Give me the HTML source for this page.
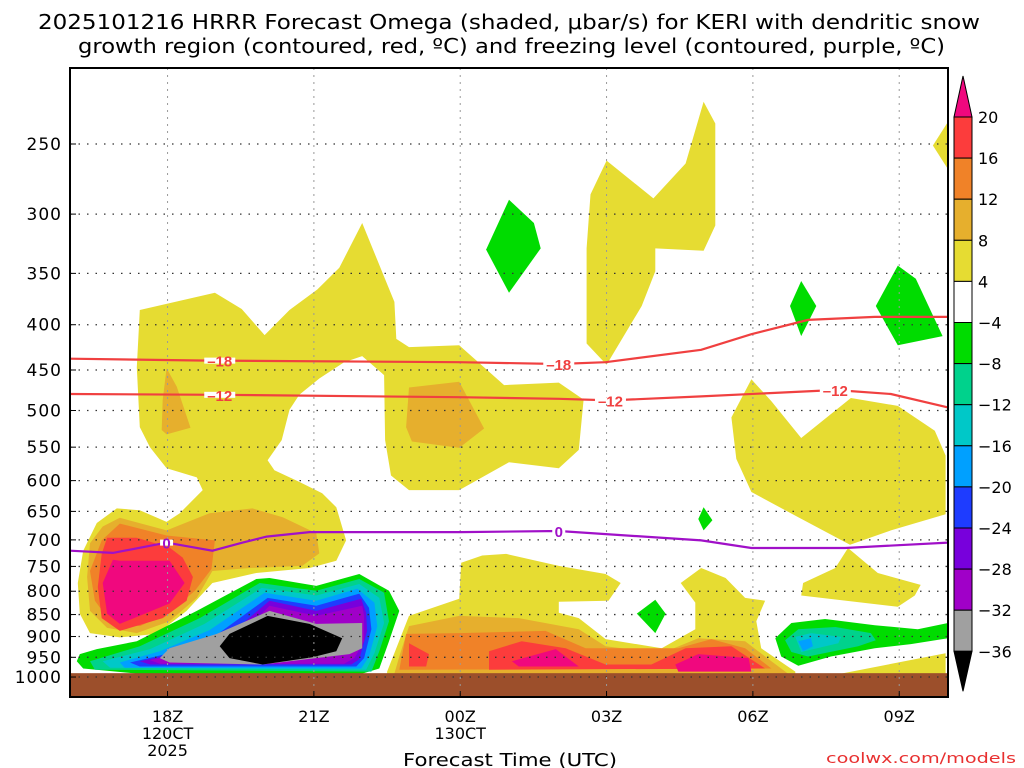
<!DOCTYPE html>
<html><head><meta charset="utf-8"><style>
body{margin:0;background:#fff;}
svg{display:block;font-family:"DejaVu Sans","Liberation Sans",sans-serif;}
</style></head><body>
<svg id="chart" width="1024" height="768" viewBox="0 0 1024 768" xmlns="http://www.w3.org/2000/svg">
<text x="38" y="29" font-size="20" textLength="942" lengthAdjust="spacingAndGlyphs">2025101216 HRRR Forecast Omega (shaded, μbar/s) for KERI with dendritic snow</text>
<text x="78" y="53" font-size="20" textLength="867" lengthAdjust="spacingAndGlyphs">growth region (contoured, red, ºC) and freezing level (contoured, purple, ºC)</text>
<g id="fills"></g>
<g id="grid"></g>
<g id="lines"></g>
<g id="axes"></g>
<g id="cbar"></g>
<text x="403" y="766" font-size="18" textLength="214" lengthAdjust="spacingAndGlyphs">Forecast Time (UTC)</text>
<text x="826" y="763" font-size="14" fill="#e83030" textLength="190" lengthAdjust="spacingAndGlyphs">coolwx.com/models</text>
</svg>
<script>
// ---- data ----
const xTickHours = [18, 21, 24, 27, 30, 33];
const xTickLabels = [["18Z","120CT","2025"],["21Z"],["00Z","130CT"],["03Z"],["06Z"],["09Z"]];
const yTickLevels = [250,300,350,400,450,500,550,600,650,700,750,800,850,900,950,1000];
const cbarLevels = [20,16,12,8,4,-4,-8,-12,-16,-20,-24,-28,-32,-36];
const cbarColors = ["#fc3c3c","#f08228","#e6af2d","#e6dc32","#ffffff","#00dc00","#00d28c","#00c8c8","#00a0ff","#1e3cff","#7800dc","#a000c8","#a0a0a0"];
const groundPressure = 990;

const yellowMain = [[17.43,385],[18.97,368],[19.52,384],[19.99,411],[20.5,385],[21.07,365],[21.52,345],[21.99,307],[22.65,377],[22.69,415],[22.95,424],[23.98,422],[24.9,468],[26.02,465],[26.53,486],[26.43,554],[26.02,581],[25.0,572],[23.98,615],[22.95,615],[22.58,592],[22.46,540],[22.44,456],[21.99,434],[21.62,441],[21.11,460],[20.7,480],[20.5,499],[20.34,540],[20.05,569],[20.19,584],[20.7,602],[21.17,620],[21.46,643],[21.66,701],[21.46,739],[20.91,753],[19.82,763],[18.92,783],[18.39,842],[17.78,894],[17.02,902],[16.41,892],[16.2,848],[16.16,783],[16.27,720],[16.55,670],[16.96,645],[17.43,648],[17.98,668],[18.25,653],[18.72,615],[18.6,595],[17.98,581],[17.64,550],[17.43,522],[17.37,447]];
const yellowLower = [[22.5,986],[22.95,853],[23.98,816],[24.02,743],[24.45,729],[24.94,726],[26.02,749],[26.98,765],[27.29,783],[27.04,820],[26.02,822],[26.02,846],[26.43,858],[26.98,906],[28.13,928],[28.82,883],[28.82,824],[28.52,783],[28.94,753],[29.44,773],[29.84,814],[30.25,820],[30.07,865],[30.17,928],[30.87,986],[30.87,995],[22.5,995]];
const yellowTop = [[26.67,285],[27.0,261],[27.96,288],[28.62,263],[28.99,224],[29.23,237],[29.23,309],[28.99,330],[28.0,328],[28.0,348],[27.72,381],[27.0,444],[26.59,420],[26.59,328]];
const yellowCorner = [[34,236],[33.69,251],[34,267]];
const yellowRight = [[29.97,461],[30.38,488],[30.99,537],[32.01,484],[32.97,494],[33.73,527],[33.95,562],[33.95,655],[32.83,683],[31.99,709],[30.93,660],[29.97,618],[29.66,567],[29.56,509]];
const yellowLowRight = [[31.95,715],[32.56,763],[33.44,787],[33.32,809],[32.97,833],[30.99,809],[31.03,783],[31.69,753]];
const yellowStrip = [[31.81,991],[33.95,940],[33.95,991]];
const dkyTri = [[17.98,448],[18.19,470],[18.47,523],[17.98,532],[17.88,526],[17.9,486]];
const dky00 = [[22.95,471],[23.98,464],[24.49,524],[23.98,551],[23.01,542],[22.89,522]];
const dkyLeft = [[16.67,676],[17.02,661],[17.98,683],[18.86,653],[19.74,645],[20.36,660],[21.05,688],[21.11,725],[20.76,749],[19.68,753],[18.92,759],[18.6,814],[18.04,865],[17.37,892],[16.76,880],[16.41,842],[16.35,771],[16.41,706]];
const dkyLower = [[22.75,948],[22.95,876],[23.98,853],[25.2,858],[26.43,883],[26.98,923],[28.13,940],[28.88,904],[29.84,911],[30.38,960],[30.72,991],[22.65,991]];
const orangeLeft = [[16.65,701],[17.02,671],[17.98,692],[18.97,701],[18.9,755],[18.56,799],[18.04,846],[17.43,876],[16.82,865],[16.51,820],[16.41,759]];
const orangeLower = [[22.89,894],[23.98,892],[25.75,887],[26.57,928],[28.47,928],[29.15,906],[29.84,928],[30.38,978],[22.75,981]];
const redLeft = [[16.76,696],[17.37,696],[18.04,714],[18.31,733],[18.52,771],[18.39,820],[17.9,858],[17.02,887],[16.65,858],[16.57,791],[16.65,726]];
const redLow1 = [[22.95,916],[23.36,942],[23.3,973],[22.95,973]];
const redLow2 = [[24.59,935],[25.26,911],[26.16,928],[26.98,968],[27.92,968],[28.62,928],[29.56,923],[30.25,978],[24.59,981]];
const magLeft = [[16.88,737],[17.02,739],[18.04,739],[18.35,783],[18.04,826],[17.02,871],[16.76,848],[16.67,783]];
const magLow1 = [[25.06,960],[25.96,930],[26.43,973],[25.2,973]];
const magLow2 = [[28.41,968],[28.88,942],[29.91,952],[29.97,986],[28.47,986]];
const green01 = [[25.0,289],[25.51,307],[25.65,328],[25.0,368],[24.53,329]];
const green07 = [[30.99,357],[31.3,381],[30.99,412],[30.76,381]];
const green09 = [[32.97,343],[33.34,355],[33.89,412],[32.97,422],[32.52,381]];
const green05 = [[28.99,643],[29.17,665],[28.99,683],[28.88,663]];
const green04 = [[28.0,818],[28.21,848],[28.0,892],[27.62,848]];
const negGreen = [[16.2,942],[16.55,930],[17.37,911],[18.6,842],[19.82,775],[20.09,773],[21.05,789],[21.93,765],[22.54,799],[22.75,842],[22.54,911],[22.34,978],[21.99,991],[17.37,991],[16.27,978],[16.14,960]];
const negTeal = [[16.41,960],[17.43,923],[18.66,858],[19.89,783],[21.05,799],[21.93,775],[22.44,803],[22.54,865],[22.34,935],[22.18,986],[16.51,981]];
const negCyan = [[16.67,960],[17.64,930],[18.76,871],[19.93,793],[21.05,809],[21.93,785],[22.34,814],[22.44,869],[22.24,940],[22.07,981],[16.82,976]];
const negLightBlue = [[17.02,963],[17.84,935],[18.86,885],[19.99,803],[21.05,820],[21.89,795],[22.24,824],[22.3,876],[22.13,948],[21.97,978],[17.12,976]];
const negBlue = [[17.23,963],[18.04,940],[18.97,899],[20.05,814],[21.05,831],[21.93,805],[22.13,835],[22.18,883],[22.03,952],[21.87,973],[17.43,973]];
const negPurple = [[17.43,960],[18.25,940],[19.11,911],[20.09,820],[21.05,842],[21.97,816],[22.07,846],[22.09,887],[21.93,955],[21.77,968],[17.64,968]];
const negMagPurple = [[17.64,957],[18.45,937],[19.27,923],[20.09,831],[21.05,853],[21.99,831],[22.03,853],[22.03,911],[21.83,952],[21.62,966],[17.84,966]];
const negGray = [[17.84,952],[18.04,928],[19.01,894],[20.09,842],[21.05,871],[21.99,869],[21.99,928],[21.73,942],[19.95,968],[18.04,963]];
const negBlack = [[19.07,923],[19.27,894],[20.05,853],[20.91,871],[21.58,904],[21.46,935],[20.97,950],[19.95,968],[19.27,952]];
const rGreen = [[30.46,904],[30.79,869],[31.48,860],[32.5,874],[33.38,883],[34,869],[34,904],[33.24,918],[32.5,928],[31.6,948],[30.93,971],[30.58,948]];
const rTeal = [[30.66,909],[30.93,883],[31.69,878],[32.42,892],[32.52,909],[32.16,923],[31.13,948],[30.79,937]];
const rCyan = [[30.87,901],[31.19,892],[31.81,901],[31.75,916],[30.99,937]];
const rLightBlue = [[30.93,911],[31.19,904],[31.23,923],[31.03,935]];

const line18 = [[16,437],[18.66,439],[23.98,441],[26.02,443],[26.98,441],[28.94,427],[29.97,410],[31.13,395],[32.5,392],[34,392]];
const line12 = [[16,479],[19.07,480],[23.98,483],[26.02,485],[27.08,487],[28.94,482],[31.69,474],[32.83,479],[34,496]];
const line0 = [[16,720],[16.88,724],[17.98,705],[18.92,720],[19.54,705],[20.03,694],[20.91,686],[22.13,686],[24.02,686],[26.02,684],[28.94,701],[29.97,715],[31.89,715],[34,705]];
const labels18 = [[19.07,"-18"],[26.02,"-18"]];
const labels12 = [[19.07,"-12"],[27.08,"-12"],[31.69,"-12"]];
const labels0 = [[17.98,"0"],[26.02,"0"]];

const X0=70,X1=948,Y0=68,Y1=697,H0=16,H1=34;
function xs(h){return X0+(h-H0)*(X1-X0)/(H1-H0);}
function ys(p){return 144+384.5*Math.log(p/250);}
const NS="http://www.w3.org/2000/svg";
function mk(tag,attrs,parent){const e=document.createElementNS(NS,tag);for(const k in attrs)e.setAttribute(k,attrs[k]);parent.appendChild(e);return e;}
const fills=document.getElementById('fills');
function poly(data,color,name){
  const pts=data.map(d=>xs(d[0]).toFixed(1)+','+ys(d[1]).toFixed(1)).join(' ');
  const e=mk('polygon',{points:pts,fill:color},fills);
  
  
}
const Y="#e6dc32",DY="#e6af2d",OR="#f08228",RD="#fc3c3c",MG="#f0087e",GR="#00dc00";
poly(yellowMain,Y,'yellow-region-main');
poly(yellowLower,Y,'yellow-region-lower');
poly(yellowTop,Y,'yellow-region-top');
poly(yellowCorner,Y,'yellow-region-corner');
poly(yellowRight,Y,'yellow-region-right');
poly(yellowLowRight,Y,'yellow-region-low-right');
poly(yellowStrip,Y,'yellow-region-strip');
poly(dkyTri,DY,'dark-yellow-triangle');
poly(dky00,DY,'dark-yellow-00z');
poly(dkyLeft,DY,'dark-yellow-left');
poly(dkyLower,DY,'dark-yellow-lower');
poly(orangeLeft,OR,'orange-left');
poly(orangeLower,OR,'orange-lower');
poly(redLeft,RD,'red-left');
poly(redLow1,RD,'red-lower-1');
poly(redLow2,RD,'red-lower-2');
poly(magLeft,MG,'magenta-left');
poly(magLow1,MG,'magenta-lower-1');
poly(magLow2,MG,'magenta-lower-2');
poly(green01,GR,'green-01z');
poly(green07,GR,'green-07z');
poly(green09,GR,'green-09z');
poly(green05,GR,'green-05z');
poly(green04,GR,'green-04z');
poly(negGreen,GR,'neg-green');
poly(negTeal,"#00d28c",'neg-teal');
poly(negCyan,"#00c8c8",'neg-cyan');
poly(negLightBlue,"#00a0ff",'neg-lightblue');
poly(negBlue,"#1e3cff",'neg-blue');
poly(negPurple,"#7800dc",'neg-purple');
poly(negMagPurple,"#a000c8",'neg-magpurple');
poly(negGray,"#a0a0a0",'neg-gray');
poly(negBlack,"#000000",'neg-black');
poly(rGreen,GR,'right-green');
poly(rTeal,"#00d28c",'right-teal');
poly(rCyan,"#00c8c8",'right-cyan');
poly(rLightBlue,"#00a0ff",'right-lightblue');
const gnd=mk('rect',{x:X0,y:ys(groundPressure),width:X1-X0,height:Y1-ys(groundPressure),fill:"#9c4f2b"},fills);



const grid=document.getElementById('grid');
yTickLevels.forEach(p=>{
  const l=mk('line',{x1:X0,x2:X1,y1:ys(p),y2:ys(p),stroke:"#333",'stroke-width':1.3,'stroke-dasharray':"1.5 7"},grid);
  
  
});
xTickHours.forEach(h=>{
  const l=mk('line',{x1:xs(h),x2:xs(h),y1:Y0,y2:Y1,stroke:"#999",'stroke-width':1,'stroke-dasharray':"2 5"},grid);
  
  
});

const lines=document.getElementById('lines');
function pl(data,color,name){
  const pts=data.map(d=>xs(d[0]).toFixed(1)+','+ys(d[1]).toFixed(1)).join(' ');
  const e=mk('polyline',{points:pts,fill:"none",stroke:color,'stroke-width':2.2},lines);
  
  
}
function interp(data,h){for(let i=0;i<data.length-1;i++){if(h>=data[i][0]&&h<=data[i+1][0]){const t=(h-data[i][0])/(data[i+1][0]-data[i][0]);return data[i][1]+t*(data[i+1][1]-data[i][1]);}}return data[0][1];}
function lab(data,labs,color,name){
  labs.forEach(l=>{
    const x=xs(l[0]),y=ys(interp(data,l[0]));
    const w=l[1].length*9+4;
    const r=mk('rect',{x:x-w/2,y:y-3,width:w,height:6,fill:"#fff"},lines);
    
    
    const t=mk('text',{x:x,y:y+6,'font-size':15,'font-weight':'bold',fill:color,'text-anchor':'middle','font-family':'Liberation Sans, sans-serif'},lines);
    t.textContent=l[1].replace('-','–');
    
    
  });
}
pl(line18,"#f04040",'contour-minus18');
pl(line12,"#f04040",'contour-minus12');
pl(line0,"#a010c8",'freezing-level');
lab(line18,labels18,"#f04040",'contour-minus18');
lab(line12,labels12,"#f04040",'contour-minus12');
lab(line0,labels0,"#a010c8",'freezing-level');

const axes=document.getElementById('axes');
const fr=mk('rect',{x:X0,y:Y0,width:X1-X0,height:Y1-Y0,fill:"none",stroke:"#000",'stroke-width':2},axes);


yTickLevels.forEach(p=>{
  const t=mk('text',{x:62,y:ys(p)+6,'font-size':17,'text-anchor':'end','letter-spacing':'1'},axes);
  t.textContent=p;
  
  
  const tk=mk('line',{x1:X0,x2:X0+6,y1:ys(p),y2:ys(p),stroke:"#000",'stroke-width':1},axes);
  
  
});
xTickHours.forEach((h,i)=>{
  xTickLabels[i].forEach((s,j)=>{
    const t=mk('text',{x:xs(h),y:722+j*17,'font-size':16,'text-anchor':'middle'},axes);
    t.textContent=s;
    
    
  });
  const tk=mk('line',{x1:xs(h),x2:xs(h),y1:Y1,y2:Y1-6,stroke:"#000",'stroke-width':1},axes);
  
  
});

const cb=document.getElementById('cbar');
const CX=954,CW=18,CT=117,CS=41.1;
const tt=mk('polygon',{points:`${CX},${CT} ${CX+CW},${CT} ${CX+CW/2},${CT-41}`,fill:MG,stroke:"#000",'stroke-width':1},cb);


cbarColors.forEach((c,i)=>{
  const r=mk('rect',{x:CX,y:CT+i*CS,width:CW,height:CS,fill:c,stroke:"#000",'stroke-width':1},cb);
  
  
});
const yb=CT+cbarColors.length*CS;
const tb=mk('polygon',{points:`${CX},${yb} ${CX+CW},${yb} ${CX+CW/2},${yb+40}`,fill:"#000",stroke:"#000",'stroke-width':1},cb);


cbarLevels.forEach((v,i)=>{
  const t=mk('text',{x:978,y:CT+i*CS+6,'font-size':16},cb);
  t.textContent=v<0?'−'+(-v):String(v);
  
  
});
</script>
</body></html>
